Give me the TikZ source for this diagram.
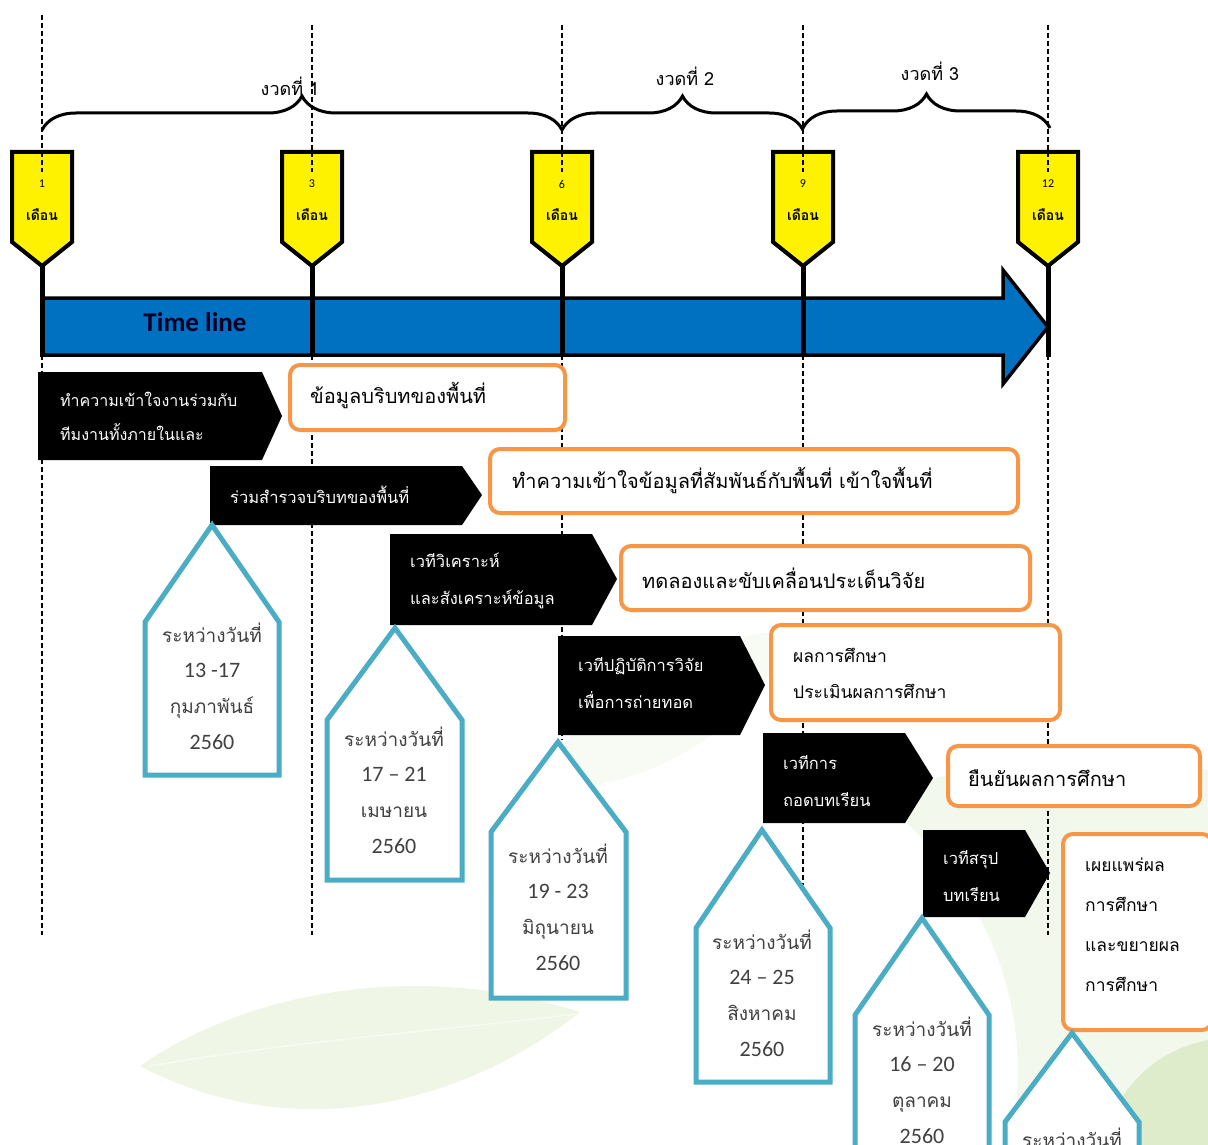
\documentclass[tikz,border=0pt]{standalone}
\usepackage{fontspec}
\newfontfamily\thai[Script=Thai]{Loma}
\newfontfamily\calf{Carlito}
\usetikzlibrary{decorations.pathreplacing}
\definecolor{orangeC}{HTML}{F79646}
\definecolor{blueT}{HTML}{4BACC6}
\definecolor{arrowB}{HTML}{0070C0}
\definecolor{tagtxt}{HTML}{404040}
\definecolor{leafC}{HTML}{B9D98A}
\definecolor{leafD}{HTML}{8DBF4F}
\begin{document}
\begin{tikzpicture}[x=1pt,y=-1pt,
  dashline/.style={black, line width=1.2pt, dash pattern=on 5pt off 3pt},
  ytag/.style={fill=yellow, draw=black, line width=4pt, line join=miter},
  stem/.style={black, line width=5pt},
  chev/.style={fill=black},
  obox/.style={draw=orangeC, line width=4pt, rounded corners=10pt, fill=white},
  btag/.style={draw=blueT, line width=5pt, fill=white, line join=miter},
  wtxt/.style={text=white, font=\thai\fontsize{16.5}{37}\selectfont, align=left, anchor=west, inner sep=0pt},
  otxt/.style={text=black, font=\thai\fontsize{20}{24}\selectfont, anchor=west, inner sep=0pt},
  osmall/.style={text=black, font=\thai\fontsize{17.5}{36}\selectfont, align=left, anchor=west, inner sep=0pt},
  ttxt/.style={text=tagtxt, font=\thai\fontsize{19}{35.6}\selectfont, align=center, inner sep=0pt},
  dnum/.style={font=\calf\fontsize{22}{35.6}\selectfont},
  brc/.style={decorate, decoration={brace, amplitude=34pt}, line width=3pt},
  brtxt/.style={font=\thai\fontsize{18}{20}\selectfont, inner sep=0pt},
  ynum/.style={font=\calf\fontsize{12}{14}\selectfont, inner sep=0pt},
  ymon/.style={font=\thai\bfseries\fontsize{14}{16}\selectfont, inner sep=0pt}
]
\useasboundingbox (0,0) rectangle (1208,1145);
\fill[white] (0,0) rectangle (1208,1145);

% faint background leaves
\fill[leafC, opacity=0.22] (140,1066) .. controls (250,990) and (420,960) .. (580,1012) .. controls (470,1100) and (300,1150) .. (140,1066) -- cycle;
\draw[white, opacity=0.5, line width=1.5pt] (150,1066) .. controls (300,1040) and (450,1030) .. (575,1014);
\fill[leafC, opacity=0.16] (880,800) .. controls (960,760) and (1100,740) .. (1208,770) -- (1208,1145) -- (1010,1145) .. controls (1040,1000) and (980,880) .. (880,800) -- cycle;
\fill[leafD, opacity=0.20] (1100,1145) .. controls (1120,1080) and (1160,1050) .. (1208,1040) -- (1208,1145) -- cycle;
\fill[leafC, opacity=0.10] (540,790) .. controls (580,690) and (680,640) .. (790,630) .. controls (760,720) and (660,790) .. (540,790) -- cycle;

% dashed guide lines
\foreach \xx/\ya/\yb in {42/15/935, 312/25/935, 562/25/740, 803/25/885, 1048/25/935} {
  \draw[dashline] (\xx,\ya) -- (\xx,175);
  \draw[dashline] (\xx,355) -- (\xx,\yb);
}

% braces
\draw[brc] (42,130) -- (562,130);
\draw[brc] (562,130) -- (803,130);
\draw[brc] (803,128) -- (1050,128);
\node[brtxt] (b1) at (290,86) {งวดที่ 1};
\node[brtxt] (b2) at (685,76) {งวดที่ 2};
\node[brtxt] (b3) at (930,71) {งวดที่ 3};

% time line arrow
\draw[fill=arrowB, draw=black, line width=3.5pt, line join=miter]
  (42,298) -- (1003,298) -- (1003,270) -- (1048,327) -- (1003,384) -- (1003,355) -- (42,355) -- cycle;
\node[font=\calf\bfseries\fontsize{27}{30}\selectfont, text=black!85!blue, inner sep=0pt] (tl) at (195,322) {Time line};

% yellow month tags with stems
\foreach \xx/\mm [count=\i] in {42/1, 312/3, 562/6, 803/9, 1048/12} {
  \draw[stem] (\xx,262) -- (\xx,357);
  \draw[ytag] (\xx-30,152) -- (\xx+30,152) -- (\xx+30,242) -- (\xx,266) -- (\xx-30,242) -- cycle;
  \draw[dashline] (\xx,152) -- (\xx,172);
  \node[ynum] (m\i) at (\xx,184) {\mm};
  \node[ymon] (n\i) at (\xx,215) {เดือน};
}

% ---- row 1
\fill[chev] (38,372) -- (262,372) -- (282,416) -- (262,460) -- (38,460) -- cycle;
\node[wtxt, font=\thai\fontsize{16}{34}\selectfont] (c1) at (60,416) {ทำความเข้าใจงานร่วมกับ\\ทีมงานทั้งภายในและ};
\draw[obox] (290,365) rectangle (565,430);
\node[otxt] (o1) at (310,396) {ข้อมูลบริบทของพื้นที่};

% ---- row 2
\fill[chev] (210,466) -- (462,466) -- (482,495) -- (462,525) -- (210,525) -- cycle;
\node[wtxt] (c2) at (230,495) {ร่วมสำรวจบริบทของพื้นที่};
\draw[obox] (490,449) rectangle (1018,513);
\node[otxt] (o2) at (512,481) {ทำความเข้าใจข้อมูลที่สัมพันธ์กับพื้นที่ เข้าใจพื้นที่};

% ---- row 3
\fill[chev] (390,534) -- (592,534) -- (617,579) -- (592,625) -- (390,625) -- cycle;
\node[wtxt] (c3) at (410,581) {เวทีวิเคราะห์\\และสังเคราะห์ข้อมูล};
\draw[obox] (621,546) rectangle (1030,610);
\node[otxt] (o3) at (642,578) {ทดลองและขับเคลื่อนประเด็นวิจัย};

% ---- row 4
\fill[chev] (558,636) -- (740,636) -- (765,685) -- (740,735) -- (558,735) -- cycle;
\node[wtxt] (c4) at (578,683) {เวทีปฏิบัติการวิจัย\\เพื่อการถ่ายทอด};
\draw[obox] (771,625) rectangle (1060,720);
\node[osmall] (o4) at (793,673) {ผลการศึกษา\\ประเมินผลการศึกษา};

% ---- row 5
\fill[chev] (763,733) -- (905,733) -- (933,778) -- (905,823) -- (763,823) -- cycle;
\node[wtxt] (c5) at (783,781) {เวทีการ\\ถอดบทเรียน};
\draw[obox] (948,746) rectangle (1200,806);
\node[otxt] (o5) at (968,778) {ยืนยันผลการศึกษา};

% ---- row 6
\fill[chev] (923,830) -- (1025,830) -- (1050,873) -- (1025,917) -- (923,917) -- cycle;
\node[wtxt] (c6) at (943,876) {เวทีสรุป\\บทเรียน};
\draw[obox] (1063,834) rectangle (1212,1030);
\node[osmall, font=\thai\fontsize{17.5}{40}\selectfont] (o6) at (1085,925) {เผยแพร่ผล\\การศึกษา\\และขยายผล\\การศึกษา};

% ---- blue date tags
\draw[btag] (145,775) -- (145,622) -- (212,525) -- (279,622) -- (279,775) -- cycle;
\node[ttxt] (d1) at (212,686) {ระหว่างวันที่\\{\calf\fontsize{22}{35.6}\selectfont 13 -17}\\กุมภาพันธ์\\{\calf\fontsize{22}{35.6}\selectfont 2560}};

\draw[btag] (327,880) -- (327,720) -- (395,628) -- (462,720) -- (462,880) -- cycle;
\node[ttxt] (d2) at (394,790) {ระหว่างวันที่\\{\calf\fontsize{22}{35.6}\selectfont 17 – 21}\\เมษายน\\{\calf\fontsize{22}{35.6}\selectfont 2560}};

\draw[btag] (491,998) -- (491,832) -- (558,742) -- (626,832) -- (626,998) -- cycle;
\node[ttxt] (d3) at (558,907) {ระหว่างวันที่\\{\calf\fontsize{22}{35.6}\selectfont 19 - 23}\\มิถุนายน\\{\calf\fontsize{22}{35.6}\selectfont 2560}};

\draw[btag] (696,1082) -- (696,928) -- (762,830) -- (830,928) -- (830,1082) -- cycle;
\node[ttxt] (d4) at (762,993) {ระหว่างวันที่\\{\calf\fontsize{22}{35.6}\selectfont 24 – 25}\\สิงหาคม\\{\calf\fontsize{22}{35.6}\selectfont 2560}};

\draw[btag] (855,1160) -- (855,1015) -- (922,918) -- (989,1015) -- (989,1160) -- cycle;
\node[ttxt] (d5) at (922,1080) {ระหว่างวันที่\\{\calf\fontsize{22}{35.6}\selectfont 16 – 20}\\ตุลาคม\\{\calf\fontsize{22}{35.6}\selectfont 2560}};

\draw[btag] (1005,1160) -- (1005,1122) -- (1072,1033) -- (1139,1122) -- (1139,1160) -- cycle;
\node[ttxt] (d6) at (1072,1138) {ระหว่างวันที่};
\end{tikzpicture}
\end{document}
